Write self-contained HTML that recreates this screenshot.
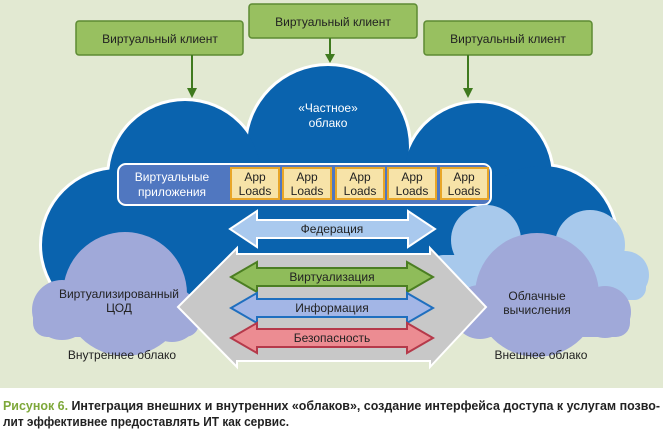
<!DOCTYPE html>
<html><head><meta charset="utf-8"><style>
html,body{margin:0;padding:0;background:#fff;}
svg{display:block;}
text{font-family:"Liberation Sans Narrow","Liberation Sans",sans-serif;}
</style></head><body>
<svg width="663" height="433" viewBox="0 0 663 433" xmlns="http://www.w3.org/2000/svg">
<rect x="0" y="0" width="663" height="388" fill="#e2e9d2"/>
<rect x="0" y="388" width="663" height="45" fill="#fff"/>

<!-- private cloud -->
<g fill="#fff">
<circle cx="328" cy="147" r="84"/><circle cx="185" cy="177" r="79"/><circle cx="478" cy="177" r="77"/>
<circle cx="118" cy="245" r="79"/><circle cx="542" cy="240" r="77"/><rect x="100" y="190" width="470" height="115"/>
</g>
<g fill="#0a63ae">
<circle cx="328" cy="147" r="81"/><circle cx="185" cy="177" r="76"/><circle cx="478" cy="177" r="74"/>
<circle cx="118" cy="245" r="76"/><circle cx="542" cy="240" r="74"/><rect x="100" y="190" width="470" height="115"/>
</g>
<text x="328" y="112" font-size="12" fill="#fff" text-anchor="middle">«Частное»</text>
<text x="328" y="127" font-size="12" fill="#fff" text-anchor="middle">облако</text>

<!-- virtual clients -->
<g fill="#98c060" stroke="#5d8b33" stroke-width="1.5">
<rect x="76" y="21" width="167" height="34" rx="3"/>
<rect x="249" y="4" width="168" height="34" rx="3"/>
<rect x="424" y="21" width="168" height="34" rx="3"/>
</g>
<g font-size="12" fill="#222" text-anchor="middle">
<text x="160" y="43">Виртуальный клиент</text>
<text x="333" y="26">Виртуальный клиент</text>
<text x="508" y="43">Виртуальный клиент</text>
</g>
<g stroke="#3f7a1e" stroke-width="2" fill="#3f7a1e">
<line x1="192" y1="55" x2="192" y2="90"/><polygon points="187,88 197,88 192,98" stroke="none"/>
<line x1="330" y1="38" x2="330" y2="56"/><polygon points="325,54 335,54 330,63" stroke="none"/>
<line x1="468" y1="55" x2="468" y2="90"/><polygon points="463,88 473,88 468,98" stroke="none"/>
</g>

<!-- virtual apps bar -->
<rect x="118" y="164" width="373" height="41" rx="8" fill="#5077c0" stroke="#fff" stroke-width="2"/>
<text x="172" y="181" font-size="12" fill="#fff" text-anchor="middle">Виртуальные</text>
<text x="172" y="196" font-size="12" fill="#fff" text-anchor="middle">приложения</text>
<g fill="#f7e3a8" stroke="#e8a628" stroke-width="2">
<rect x="231" y="168" width="48" height="31"/><rect x="283" y="168" width="48" height="31"/>
<rect x="336" y="168" width="48" height="31"/><rect x="388" y="168" width="48" height="31"/>
<rect x="441" y="168" width="47" height="31"/>
</g>
<g font-size="12" fill="#222" text-anchor="middle">
<text x="255" y="181">App</text><text x="255" y="195">Loads</text>
<text x="307" y="181">App</text><text x="307" y="195">Loads</text>
<text x="360" y="181">App</text><text x="360" y="195">Loads</text>
<text x="412" y="181">App</text><text x="412" y="195">Loads</text>
<text x="464" y="181">App</text><text x="464" y="195">Loads</text>
</g>

<!-- left lavender cloud -->
<g fill="#a0a9d9">
<circle cx="125" cy="294" r="62"/><circle cx="62" cy="310" r="30"/><circle cx="172" cy="315" r="27"/>
<rect x="33" y="305" width="166" height="32" rx="14"/>
</g>
<text x="119" y="298" font-size="12" fill="#222" text-anchor="middle">Виртуализированный</text>
<text x="119" y="312" font-size="12" fill="#222" text-anchor="middle">ЦОД</text>
<text x="122" y="359" font-size="12" fill="#222" text-anchor="middle">Внутреннее облако</text>

<!-- right clouds -->
<g fill="#a8c9ec">
<circle cx="486" cy="240" r="35"/><circle cx="590" cy="245" r="35"/><circle cx="625" cy="275" r="24"/>
<circle cx="455" cy="280" r="24"/><rect x="431" y="255" width="215" height="45" rx="12"/>
</g>
<g fill="#a0a9d9">
<circle cx="537" cy="295" r="62"/><circle cx="480" cy="312" r="27"/><circle cx="605" cy="312" r="26"/>
<rect x="463" y="305" width="167" height="32" rx="14"/>
</g>
<text x="537" y="300" font-size="12" fill="#222" text-anchor="middle">Облачные</text>
<text x="537" y="314" font-size="12" fill="#222" text-anchor="middle">вычисления</text>
<text x="541" y="359" font-size="12" fill="#222" text-anchor="middle">Внешнее облако</text>

<!-- grey hexagon arrow -->
<polygon points="178,307 237,248 237,254 430,254 430,248 486,307 430,367 430,361 237,361 237,367" fill="#c8c8c8" stroke="#fff" stroke-width="2"/>

<!-- federation -->
<polygon points="230,229 257,211 257,220 408,220 408,211 435,229 408,247 408,238 257,238 257,247" fill="#a9c9ee" stroke="#fff" stroke-width="2"/>
<text x="332" y="233" font-size="12" fill="#222" text-anchor="middle">Федерация</text>

<!-- inner arrows -->
<polygon points="231,277 257,262 257,268 407,268 407,262 433,277 407,292 407,286 257,286 257,292" fill="#8fbc5a" stroke="#4b7e22" stroke-width="2"/>
<text x="332" y="281" font-size="12" fill="#222" text-anchor="middle">Виртуализация</text>
<polygon points="231,308 257,293 257,299 407,299 407,293 433,308 407,323 407,317 257,317 257,323" fill="#a3b6e6" stroke="#1f6fbf" stroke-width="2"/>
<text x="332" y="312" font-size="12" fill="#222" text-anchor="middle">Информация</text>
<polygon points="231,338 257,323 257,329 407,329 407,323 433,338 407,353 407,347 257,347 257,353" fill="#ec8c92" stroke="#b5394a" stroke-width="2"/>
<text x="332" y="342" font-size="12" fill="#222" text-anchor="middle">Безопасность</text>

<!-- caption -->
<text x="3" y="410" font-size="12.5" font-weight="bold" fill="#222" textLength="657" lengthAdjust="spacingAndGlyphs"><tspan fill="#7ea83a">Рисунок 6.</tspan> Интеграция внешних и внутренних «облаков», создание интерфейса доступа к услугам позво-</text>
<text x="3" y="426" font-size="12.5" font-weight="bold" fill="#222" textLength="286" lengthAdjust="spacingAndGlyphs">лит эффективнее предоставлять ИТ как сервис.</text>
</svg>
</body></html>
